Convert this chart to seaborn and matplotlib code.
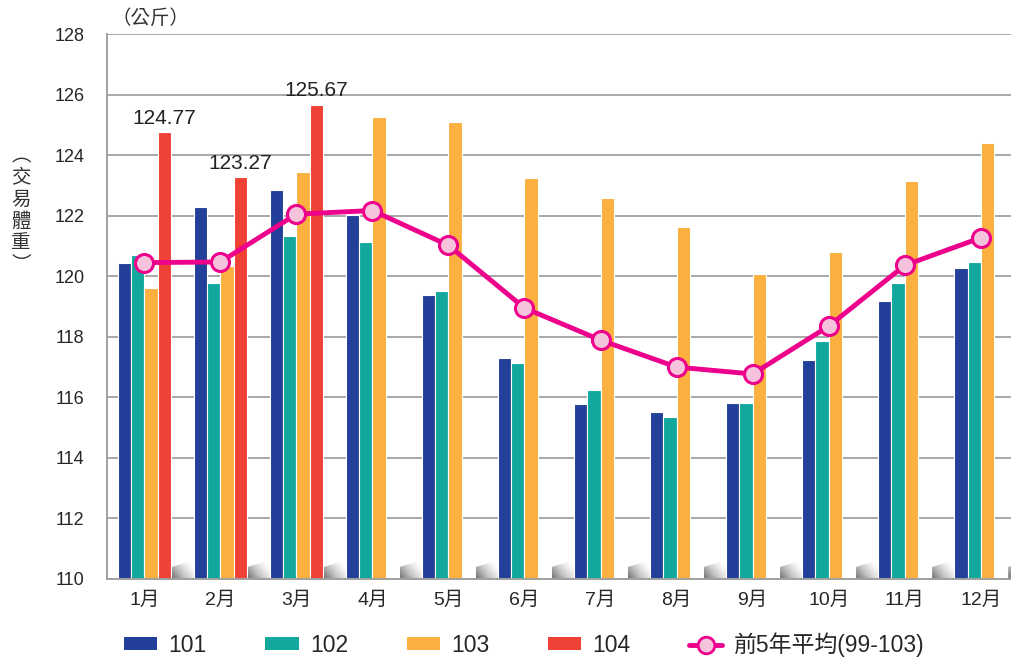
import numpy as np
import pandas as pd
import matplotlib
matplotlib.use("Agg")
import matplotlib.pyplot as plt
from matplotlib.patches import Patch, Polygon
from matplotlib.lines import Line2D
import seaborn as sns

# chart data
months = ["1月", "2月", "3月", "4月", "5月", "6月", "7月", "8月", "9月", "10月", "11月", "12月"]
y101 = [120.45, 122.30, 122.85, 122.02, 119.37, 117.30, 115.77, 115.52, 115.82, 117.22, 119.17, 120.27]
y102 = [120.70, 119.79, 121.33, 121.12, 119.52, 117.13, 116.24, 115.35, 115.82, 117.86, 119.79, 120.47]
y103 = [119.61, 120.34, 123.45, 125.25, 125.09, 123.25, 122.59, 121.64, 120.07, 120.80, 123.13, 124.40]
y104 = [124.77, 123.27, 125.67] + [np.nan] * 9
avg5 = [120.45, 120.47, 122.05, 122.17, 121.02, 118.95, 117.89, 117.00, 116.77, 118.35, 120.36, 121.27]
years = ["101", "102", "103", "104"]
colors = ["#22409A", "#12A89D", "#FBB040", "#EF4136"]
line_color = "#EC008C"
marker_face = "#F6C3DC"

sns.set_style("white")
plt.rcParams["font.family"] = ["Liberation Sans", "Noto Sans CJK TC"]

df = pd.DataFrame({"month": months, "101": y101, "102": y102, "103": y103, "104": y104})
long = df.melt(id_vars="month", var_name="year", value_name="weight").dropna()

fig = plt.figure(figsize=(10.12, 6.59), dpi=100)
ax = fig.add_axes([0.1057, 0.1214, 0.8943, 0.827])

sns.barplot(data=long, x="month", y="weight", hue="year", order=months,
            hue_order=years, palette=colors, saturation=1, width=0.7, dodge=True,
            edgecolor="white", linewidth=0.8, legend=False, ax=ax)

sns.lineplot(x=months, y=avg5, color=line_color, linewidth=3.5, marker="o",
             markersize=13, markerfacecolor=marker_face, markeredgecolor=line_color,
             markeredgewidth=2.2, ax=ax, zorder=5)

# value labels on the 104 bars
ax.bar_label(ax.containers[3], fmt="%.2f", padding=3, fontsize=15, color="#222222")

ax.set_yticks(range(110, 129, 2))
ax.yaxis.grid(True, color="#a8a8a8", linewidth=1.4)
ax.set_axisbelow(True)
for s in ["top", "right"]:
    ax.spines[s].set_visible(False)
for s in ["left", "bottom"]:
    ax.spines[s].set_color("#a0a0a0")
    ax.spines[s].set_linewidth(1.4)
ax.tick_params(axis="y", length=10, width=1.4, color="#a8a8a8", labelsize=13, pad=6)
ax.tick_params(axis="x", length=0, labelsize=14, pad=9)
ax.set_xlabel("")
ax.set_ylabel("")

# little grey shadow wedges at the foot of each month group
gx, gy = np.meshgrid(np.linspace(0, 1, 64), np.linspace(0, 1, 32))
grad = 0.6 * gx + 0.4 * gy
for i in range(len(months)):
    x0 = i + 0.36
    x1 = x0 + 0.29
    poly = Polygon([(x0, 110), (x0, 110.40), (x1, 110.62), (x1, 110)],
                   closed=True, transform=ax.transData, facecolor="none", edgecolor="none")
    ax.add_patch(poly)
    im = ax.imshow(grad, extent=[x0, x1, 110, 110.62], origin="lower", cmap="Greys_r",
                   vmin=-0.5, vmax=0.85, aspect="auto", zorder=1, interpolation="bilinear")
    im.set_clip_path(poly)
ax.set_xlim(-0.49, 11.41)
ax.set_ylim(110, 128)

fig.text(112 / 1012, 1 - 18 / 659, "（公斤）", fontsize=14, va="center", ha="left",
         color="#333333", family=["Noto Sans CJK TC"])
fig.text(21 / 1012, 1 - 210 / 659, "︵\n交\n易\n體\n重\n︶", fontsize=14, va="center",
         ha="center", linespacing=1.05, color="#333333", family=["Noto Sans CJK TC"])

handles = [Patch(facecolor=c, edgecolor="none") for c in colors]
handles.append(Line2D([], [], color=line_color, linewidth=3.5, marker="o", markersize=12,
                      markerfacecolor=marker_face, markeredgecolor=line_color, markeredgewidth=2))
fig.legend(handles, years + ["前5年平均(99-103)"], loc="center left",
           bbox_to_anchor=(124 / 1012, 0.022), ncol=5, frameon=False,
           prop={"size": 16.5}, borderpad=0, borderaxespad=0,
           handlelength=1.45, handleheight=0.5, columnspacing=2.55, handletextpad=0.5)

fig.savefig("out.png", dpi=100)
